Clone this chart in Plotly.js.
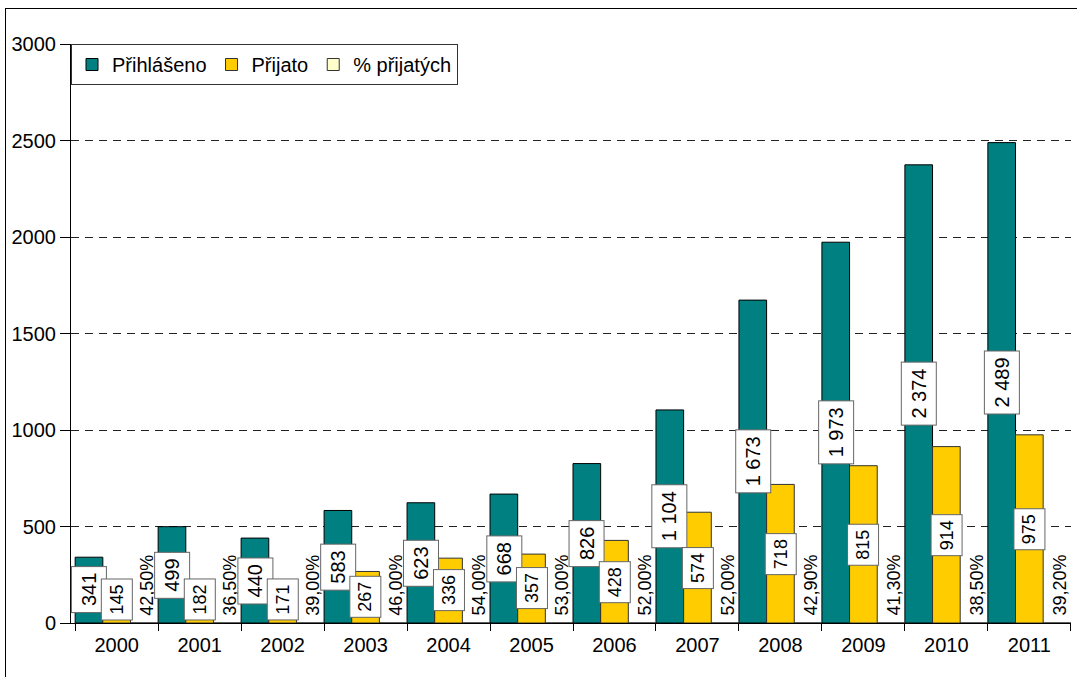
<!DOCTYPE html>
<html>
<head>
<meta charset="utf-8">
<script src="https://cdn.plot.ly/plotly-3.0.1.min.js"></script>
<style>
  html, body { margin: 0; padding: 0; background: #fff; }
  #wrap { position: relative; width: 1077px; height: 677px; overflow: hidden; }
  #chart { position: absolute; left: 0; top: 0; width: 1077px; height: 677px; }
  #frame { position: absolute; left: 5px; top: 8px; width: 1200px; height: 800px;
           border-left: 1.5px solid #000; border-top: 1.5px solid #000; pointer-events: none; z-index: 5; }
</style>
</head>
<body>
<div id="wrap">
  <div id="chart"></div>
  <div id="frame"></div>
</div>
<script>
// ---- data ----
const years = ['2000','2001','2002','2003','2004','2005','2006','2007','2008','2009','2010','2011'];
const prihlaseno = [341, 499, 440, 583, 623, 668, 826, 1104, 1673, 1973, 2374, 2489];
const prijato = [145, 182, 171, 267, 336, 357, 428, 574, 718, 815, 914, 975];
const procentoPrijatych = [0.425, 0.365, 0.39, 0.46, 0.54, 0.53, 0.52, 0.52, 0.429, 0.413, 0.385, 0.392];
const seriesNames = ['Přihlášeno', 'Přijato', '% přijatých'];

// ---- helpers ----
const FONT = 'Liberation Sans, Arial, sans-serif';
function fmtNum(v) { return String(v).replace(/\B(?=(\d{3})+(?!\d))/g, ' '); }
function fmtPct(v) { return (v * 100).toFixed(2).replace('.', ',') + '%'; }

const traces = [
  { type: 'bar', name: seriesNames[0], x: years, y: prihlaseno,
    marker: { color: '#008080', line: { color: '#000', width: 1 } }, hoverinfo: 'none' },
  { type: 'bar', name: seriesNames[1], x: years, y: prijato,
    marker: { color: '#FFCC00', line: { color: '#333', width: 1 } }, hoverinfo: 'none' },
  { type: 'bar', name: seriesNames[2], x: years, y: procentoPrijatych,
    marker: { color: '#FFFFCC', line: { color: '#333', width: 1 } }, hoverinfo: 'none' }
];

const annotations = [];
const MIN_CENTER = 120; // labels kept above the axis line
years.forEach((yr, i) => {
  annotations.push({
    xref: 'x', yref: 'y', x: i - 1/3, y: Math.max(prihlaseno[i] / 2, MIN_CENTER),
    text: fmtNum(prihlaseno[i]), showarrow: false, textangle: -90,
    font: { family: FONT, size: 20, color: '#000' },
    bgcolor: '#fff', bordercolor: '#666', borderwidth: 1, borderpad: 6,
    xanchor: 'center', yanchor: 'middle'
  });
  annotations.push({
    xref: 'x', yref: 'y', x: i, y: Math.max(prijato[i] / 2, MIN_CENTER),
    text: fmtNum(prijato[i]), showarrow: false, textangle: -90,
    font: { family: FONT, size: 18, color: '#000' },
    bgcolor: '#fff', bordercolor: '#666', borderwidth: 1, borderpad: 5,
    xanchor: 'center', yanchor: 'middle'
  });
  annotations.push({
    xref: 'x', yref: 'y', x: i + 1/3, y: procentoPrijatych[i],
    text: fmtPct(procentoPrijatych[i]), showarrow: false, textangle: -90,
    font: { family: FONT, size: 18, color: '#000' },
    borderpad: 0, xanchor: 'center', yanchor: 'bottom', yshift: 6, xshift: 3
  });
});

const layout = {
  width: 1077, height: 677,
  margin: { l: 71, r: 6, t: 44, b: 54 },
  paper_bgcolor: 'rgba(0,0,0,0)', plot_bgcolor: 'rgba(0,0,0,0)',
  font: { family: FONT, size: 20, color: '#000' },
  barmode: 'group', bargap: 0, bargroupgap: 0,
  showlegend: true,
  legend: {
    orientation: 'h', x: 0, y: 1, xanchor: 'left', yanchor: 'top',
    bgcolor: '#fff', bordercolor: '#333', borderwidth: 1,
    font: { family: FONT, size: 20, color: '#000' },
    traceorder: 'normal', itemwidth: 30
  },
  xaxis: {
    type: 'category', tickson: 'boundaries', ticks: 'outside', ticklen: 7,
    tickcolor: '#000', tickwidth: 1, showline: true, linecolor: '#000', linewidth: 1,
    showgrid: false, zeroline: false, tickfont: { family: FONT, size: 20, color: '#000' },
    automargin: false, ticklabelstandoff: 4, fixedrange: true
  },
  yaxis: {
    range: [0, 3000], dtick: 500, tick0: 0, ticks: 'outside', ticklen: 10,
    tickcolor: '#000', tickwidth: 1, showline: true, linecolor: '#000', linewidth: 1,
    showgrid: true, gridcolor: '#222', gridwidth: 1, griddash: '8px,6px',
    zeroline: false, tickfont: { family: FONT, size: 20, color: '#000' },
    automargin: false, fixedrange: true
  },
  annotations: annotations
};

Plotly.newPlot('chart', traces, layout, { displayModeBar: false, staticPlot: true });
</script>
</body>
</html>
